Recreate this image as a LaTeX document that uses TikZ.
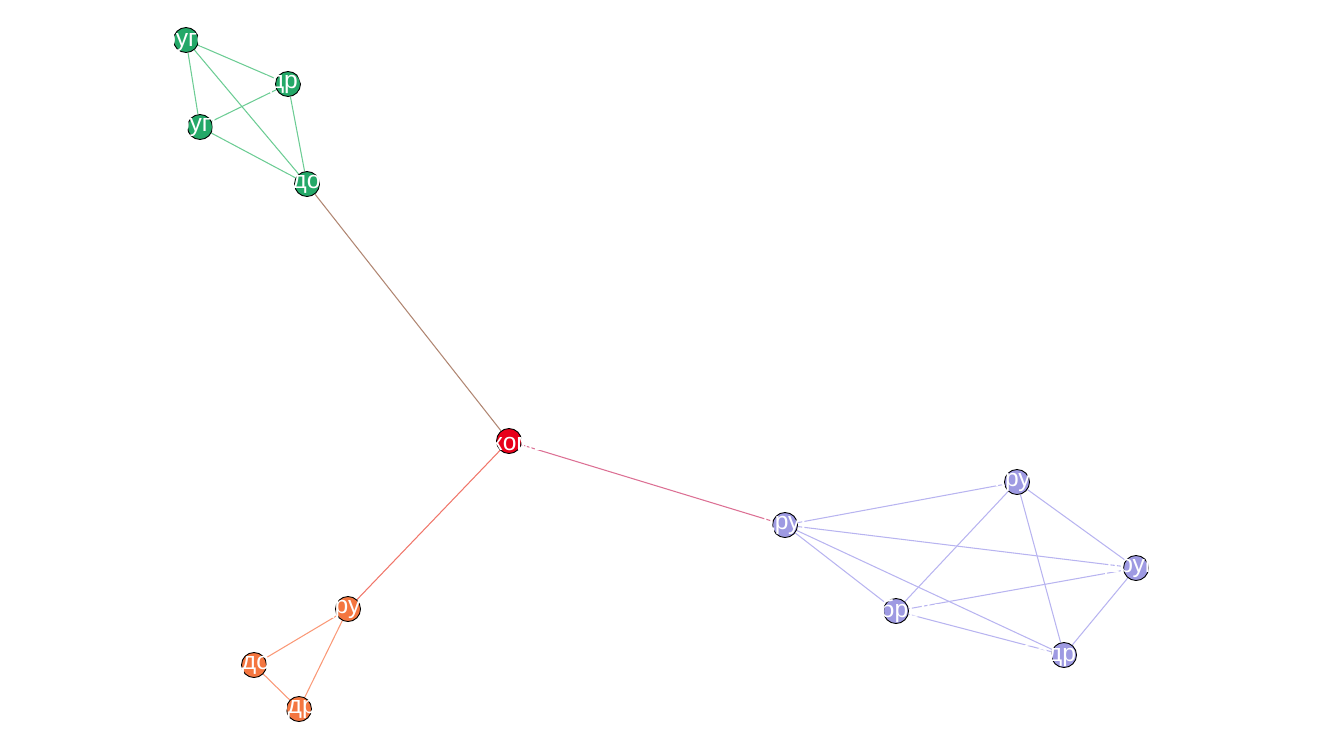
\documentclass[tikz,border=0pt]{standalone}
\usepackage{fontspec}
\setmainfont{Liberation Sans}
\usetikzlibrary{backgrounds}

\definecolor{verde}{RGB}{36,168,104}
\definecolor{laranja}{RGB}{244,118,64}
\definecolor{lilas}{RGB}{158,154,226}
\definecolor{vermelho}{RGB}{232,0,26}
\definecolor{verdeclaro}{RGB}{108,204,148}
\definecolor{laranjaclaro}{RGB}{250,152,118}
\definecolor{lilasclaro}{RGB}{184,180,240}
\definecolor{marrom}{RGB}{176,134,114}
\definecolor{salmao}{RGB}{240,118,106}
\definecolor{rosa}{RGB}{220,112,148}

\begin{document}
\begin{tikzpicture}[
  x=0.2mm, y=-0.2mm,
  vert/.style={circle, draw=black, line width=0.5pt, fill=#1, minimum size=5mm, inner sep=0pt},
  rot/.style={text=white, font=\fontsize{14}{15}\selectfont, inner sep=0pt},
  aresta/.style={line width=0.6pt, draw=#1},
]
\useasboundingbox (0,0) rectangle (1324,750);

% ---- grupo verde
\node[vert=verde, label={[rot]center:другой}] (g1) at (186,40) {};
\node[vert=verde, label={[rot]center:вдруг}] (g2) at (288,84) {};
\node[vert=verde, label={[rot]center:другие}] (g3) at (200,127) {};
\node[vert=verde, label={[rot]center:гордость}] (g4) at (307,184) {};

% ---- centro
\node[vert=vermelho, label={[rot]center:знакомый}] (ko) at (509,441) {};

% ---- grupo laranja
\node[vert=laranja, label={[rot]center:подружка}] (o1) at (348,609) {};
\node[vert=laranja, label={[rot]center:сладость}] (o2) at (254,665) {};
\node[vert=laranja, label={[rot]center:подруг}] (o3) at (299,709) {};

% ---- grupo lilas
\node[vert=lilas, label={[rot]center:друг}] (b1) at (785,525) {};
\node[vert=lilas, label={[rot]center:круг}] (b2) at (1017,482) {};
\node[vert=lilas, label={[rot]center:друга}] (b3) at (1136,568) {};
\node[vert=lilas, label={[rot]center:добрый}] (b4) at (896,611) {};
\node[vert=lilas, label={[rot]center:бодрый}] (b5) at (1064,655) {};

% ---- arestas
\begin{scope}[on background layer]
  \foreach \de/\para in {g1/g2, g1/g3, g1/g4, g2/g3, g2/g4, g3/g4}
    \draw[aresta=verdeclaro] (\de) -- (\para);
  \foreach \de/\para in {o1/o2, o1/o3, o2/o3}
    \draw[aresta=laranjaclaro] (\de) -- (\para);
  \foreach \de/\para in {b1/b2, b1/b3, b1/b4, b1/b5, b2/b3, b2/b4, b2/b5, b3/b4, b3/b5, b4/b5}
    \draw[aresta=lilasclaro] (\de) -- (\para);
  \draw[aresta=marrom] (g4) -- (ko);
  \draw[aresta=salmao] (ko) -- (o1);
  \draw[aresta=rosa] (ko) -- (b1);
\end{scope}
\end{tikzpicture}
\end{document}
